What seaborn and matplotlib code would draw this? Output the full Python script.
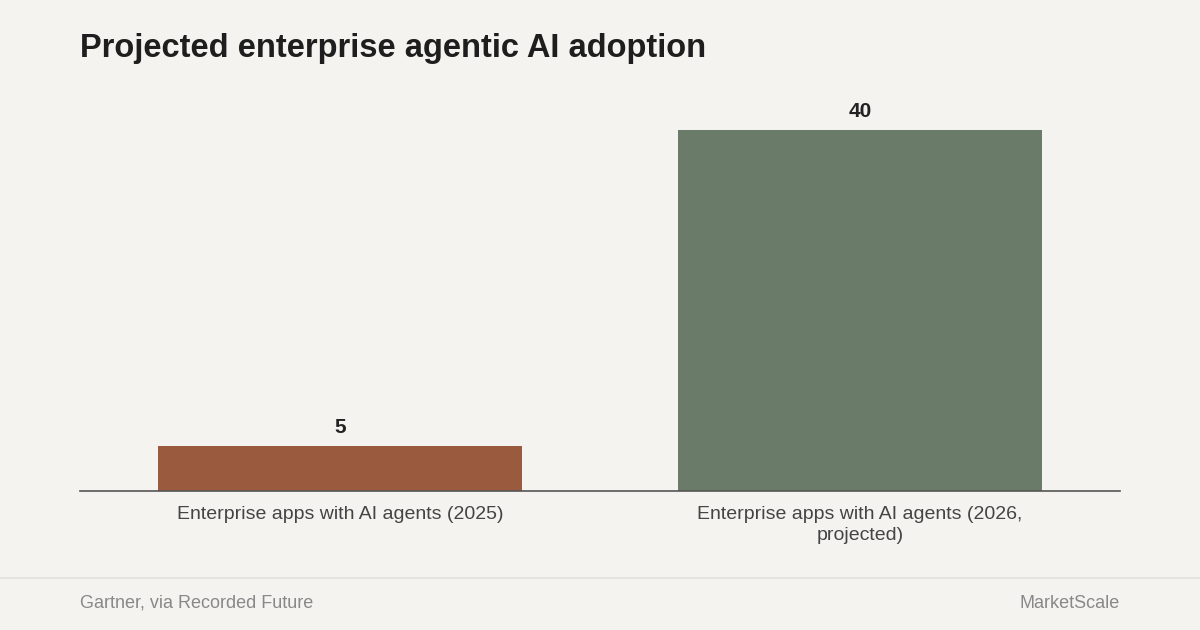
import matplotlib
matplotlib.use("Agg")
import matplotlib.pyplot as plt
import seaborn as sns
import pandas as pd

categories = ["Enterprise apps with AI agents (2025)", "Enterprise apps with AI agents (2026,\nprojected)"]
values = [5, 40]
colors = ["#9a5a3d", "#6a7b69"]
bg = "#f4f3ef"

sns.set_theme(style="white")
plt.rcParams['font.family'] = ['Liberation Sans', 'DejaVu Sans']

df = pd.DataFrame({"cat": categories, "val": values})
fig = plt.figure(figsize=(12, 6.3), dpi=100, facecolor=bg)
ax = fig.add_axes([80/1200, 1-491/630, 1040/1200, 361/630])
ax.set_facecolor(bg)
sns.barplot(data=df, x="cat", y="val", hue="cat", palette=colors, width=0.7, ax=ax, legend=False,
            saturation=1, edgecolor="none", linewidth=0)
ax.set_xlim(-0.5, 1.5)
ax.set_ylim(0, 40)
for i, v in enumerate(values):
    ax.text(i, v + 1.0, str(v), ha="center", va="bottom", fontsize=15, fontweight="bold", color="#222222", clip_on=False)
for s in ["top", "right", "left"]:
    ax.spines[s].set_visible(False)
ax.spines["bottom"].set_color("#555555")
ax.spines["bottom"].set_linewidth(1.2)
ax.set_yticks([])
ax.set_xlabel("")
ax.set_ylabel("")
ax.tick_params(axis="x", length=0, pad=11, labelsize=14, labelcolor="#444444")
for t in ax.get_xticklabels():
    t.set_linespacing(1.3)

fig.text(80/1200, 1-49/630, "Projected enterprise agentic AI adoption", fontsize=23.5, fontweight="bold", color="#1e1e1e", va="center")
fig.add_artist(plt.Line2D([0, 1], [1-578/630]*2, color="#e2e0dc", lw=1.2))
fig.text(80/1200, 1-603/630, "Gartner, via Recorded Future", fontsize=13, color="#888888", va="center")
fig.text(1120/1200, 1-604/630, "MarketScale", fontsize=13, color="#888888", va="center", ha="right")
fig.savefig("out.png", facecolor=bg)
